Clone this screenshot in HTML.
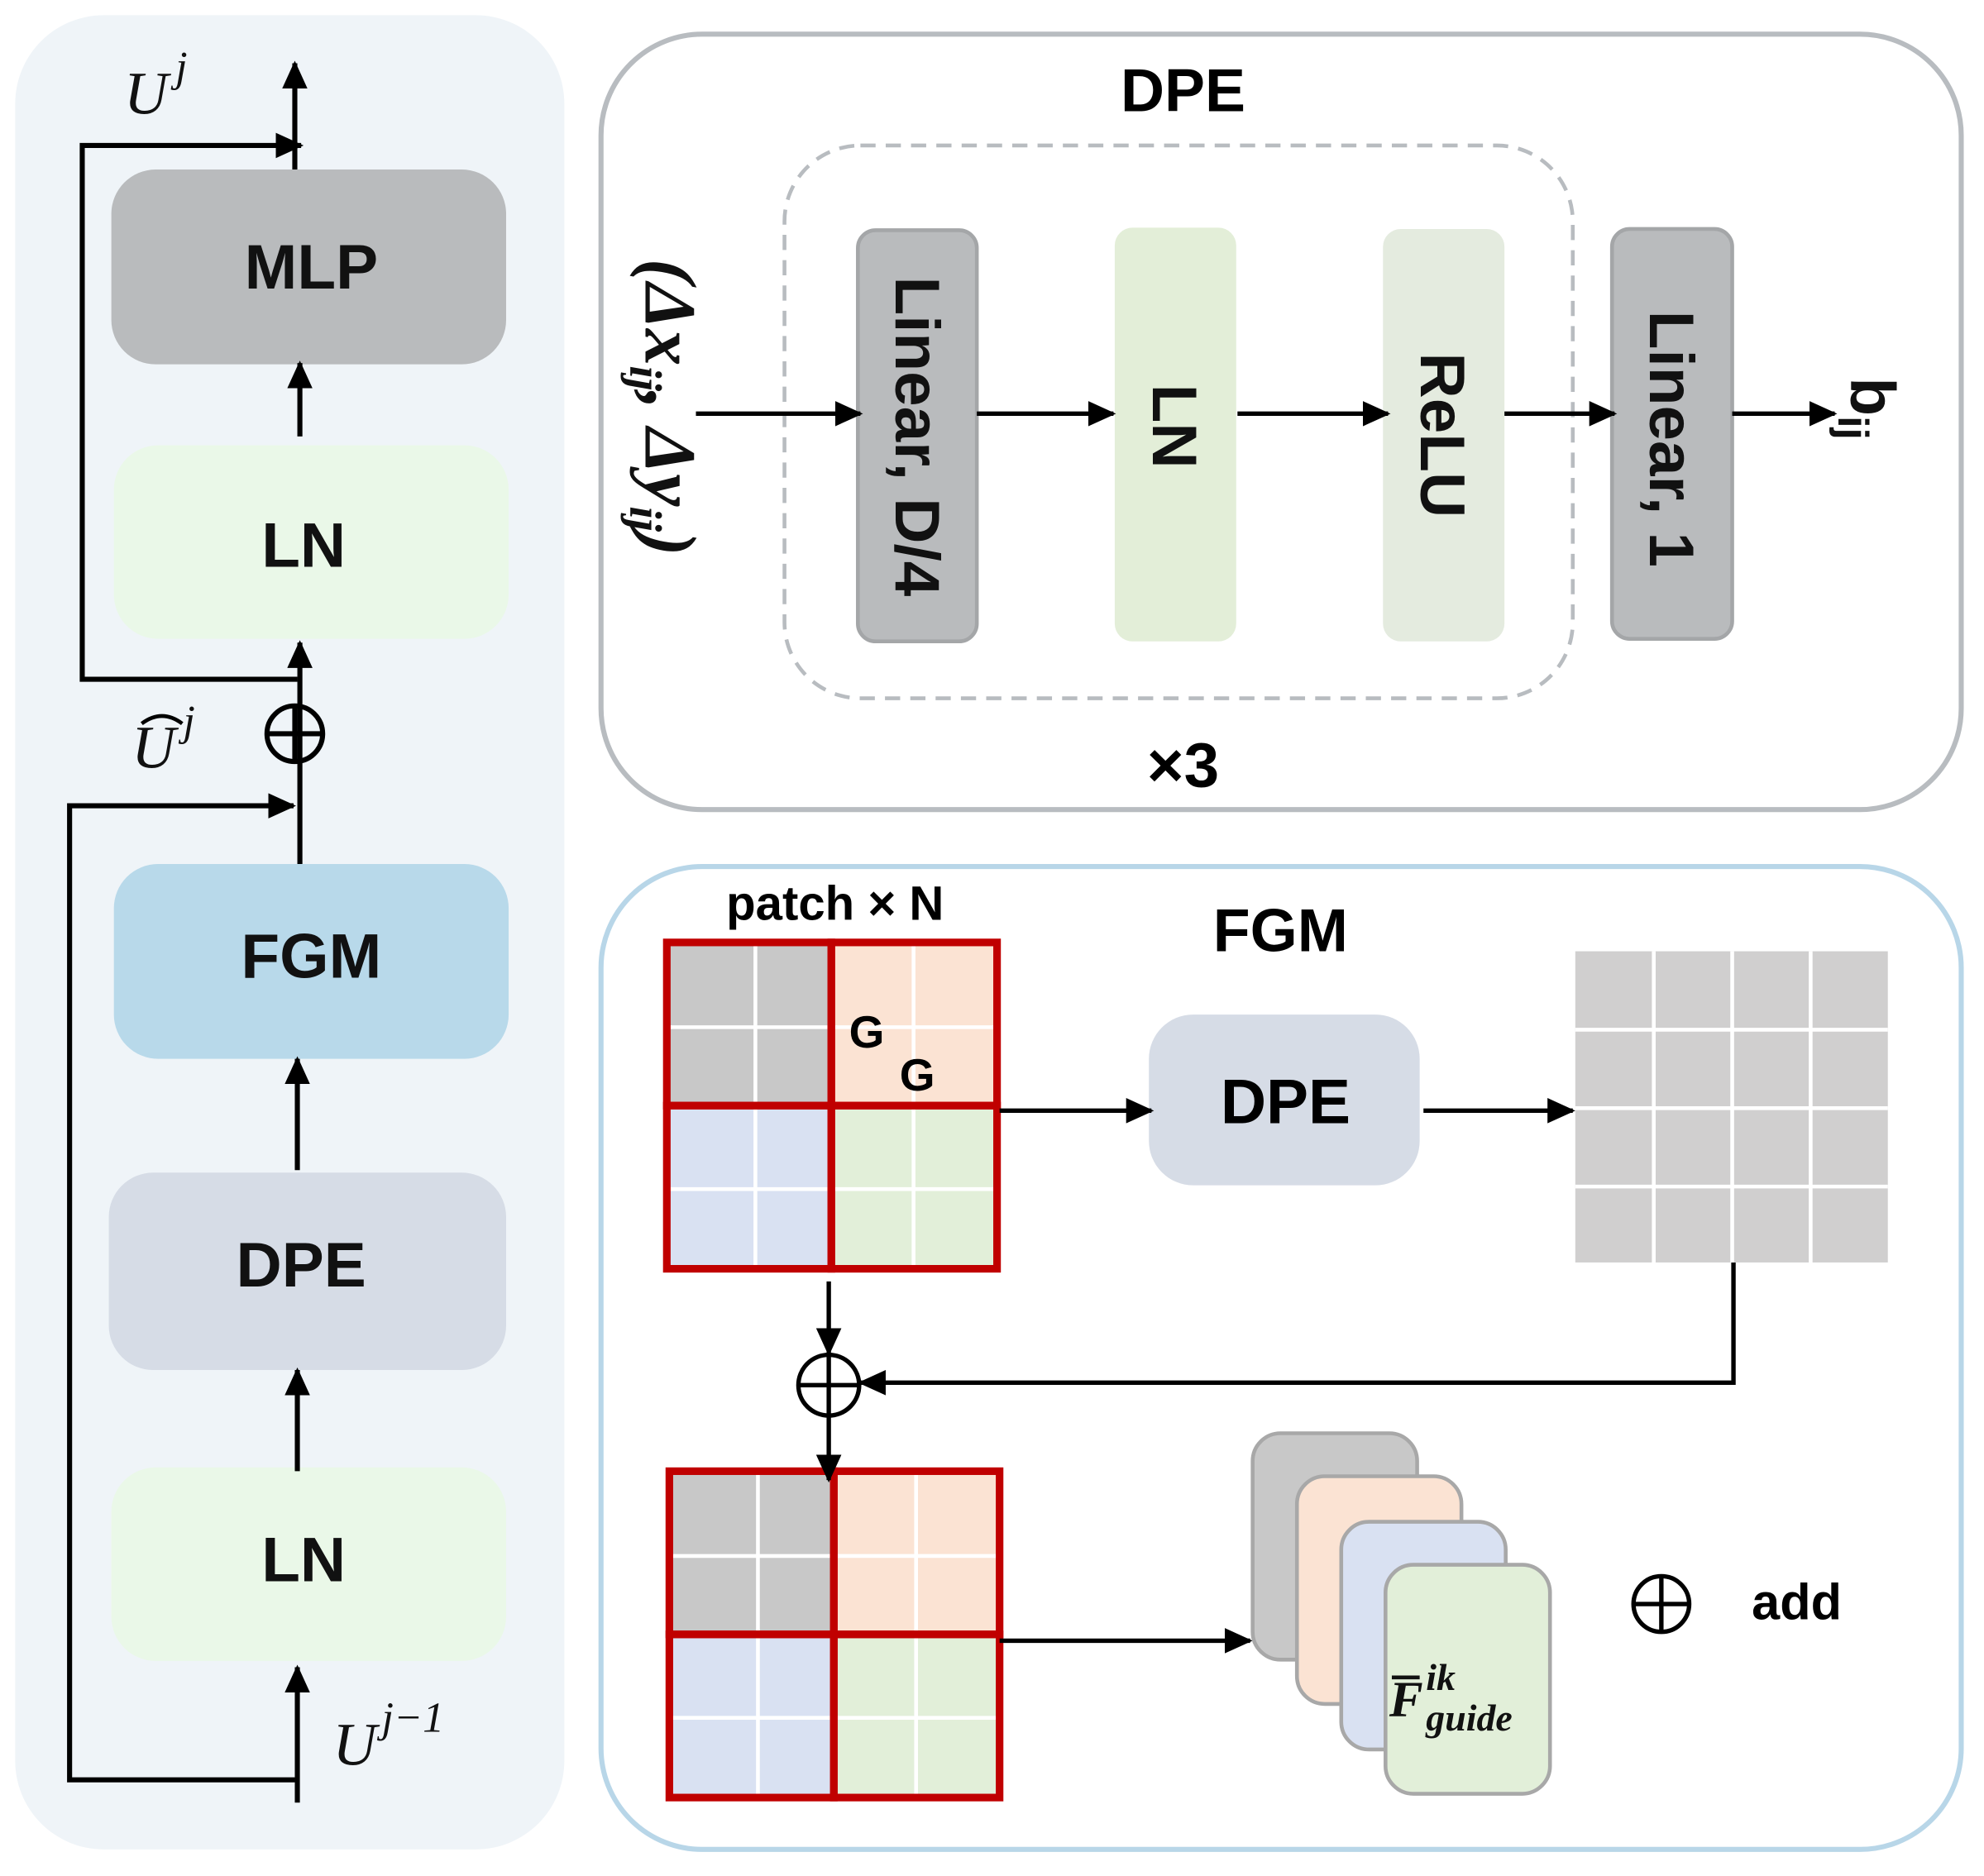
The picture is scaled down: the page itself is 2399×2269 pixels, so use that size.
<!DOCTYPE html>
<html><head><meta charset="utf-8"><style>html,body{margin:0;padding:0;background:#fff}svg{display:block}</style></head>
<body>
<svg width="2399" height="2269" viewBox="0 0 1568 1483" xmlns="http://www.w3.org/2000/svg" font-family="Liberation Sans, sans-serif">
<defs>
<marker id="b" markerWidth="22" markerHeight="20" refX="20" refY="10" orient="auto" markerUnits="userSpaceOnUse" viewBox="0 0 22 20">
<path d="M0,0 L22,10 L0,20 z" fill="#000"/></marker>
</defs>
<!-- left panel -->
<rect x="12" y="12" width="434" height="1450" rx="70" fill="#eff4f8"/>
<rect x="88" y="134" width="312" height="154" rx="35" fill="#b9bbbd"/>
<rect x="90" y="352" width="312" height="153" rx="35" fill="#eaf8e8"/>
<rect x="90" y="683" width="312" height="154" rx="35" fill="#b8d9ea"/>
<rect x="86" y="927" width="314" height="156" rx="35" fill="#d6dce6"/>
<rect x="88" y="1160" width="312" height="153" rx="35" fill="#eaf8e8"/>
<g font-weight="bold" font-size="50" text-anchor="middle" fill="#111">
<text x="246" y="228">MLP</text>
<text x="240" y="448">LN</text>
<text x="246" y="773">FGM</text>
<text x="238" y="1017">DPE</text>
<text x="240" y="1250">LN</text>
</g>
<g stroke="#000" stroke-width="4" fill="none">
<line x1="235" y1="1425" x2="235" y2="1318" marker-end="url(#b)"/>
<line x1="235" y1="1163" x2="235" y2="1083" marker-end="url(#b)"/>
<line x1="235" y1="925" x2="235" y2="837" marker-end="url(#b)"/>
<line x1="237" y1="683" x2="237" y2="508" marker-end="url(#b)"/>
<line x1="237" y1="345" x2="237" y2="287" marker-end="url(#b)"/>
<line x1="233" y1="134" x2="233" y2="50" marker-end="url(#b)"/>
<polyline points="233,1407 55,1407 55,637 232,637" marker-end="url(#b)"/>
<polyline points="235,537 65,537 65,115 238,115" marker-end="url(#b)"/>
<circle cx="233" cy="580" r="22"/>
<line x1="211" y1="580" x2="255" y2="580"/>
<line x1="233" y1="558" x2="233" y2="602"/>
<path d="M112,572 Q128,560 144,572" stroke-width="3"/>
</g>
<g font-family="Liberation Serif, serif" font-style="italic" fill="#111">
<text x="98" y="90" font-size="48">U<tspan font-size="34" dy="-26" dx="6">j</tspan></text>
<text x="104" y="607" font-size="48">U<tspan font-size="34" dy="-26" dx="6">j</tspan></text>
<text x="263" y="1395" font-size="48">U<tspan font-size="34" dy="-26" dx="4">j−1</tspan></text>
</g>
<!-- DPE panel -->
<rect x="475" y="27" width="1075" height="613" rx="80" fill="#fff" stroke="#b8bcc0" stroke-width="4"/>
<text x="935" y="88" font-size="48" font-weight="bold" text-anchor="middle">DPE</text>
<rect x="620" y="115" width="623" height="437" rx="60" fill="none" stroke="#b8bcc0" stroke-width="3" stroke-dasharray="12,8"/>
<rect x="678" y="182" width="94" height="325" rx="14" fill="#b9bbbd" stroke="#a4a6a8" stroke-width="3"/>
<rect x="881" y="180" width="96" height="327" rx="14" fill="#e3eed8"/>
<rect x="1093" y="181" width="96" height="326" rx="14" fill="#e4ebdf"/>
<rect x="1274" y="181" width="95" height="324" rx="14" fill="#b9bbbd" stroke="#a4a6a8" stroke-width="3"/>
<g font-weight="bold" font-size="50" fill="#111" text-anchor="middle">
<text transform="translate(708,345) rotate(90)">Linear, D/4</text>
<text transform="translate(911,337) rotate(90)">LN</text>
<text transform="translate(1123,344) rotate(90)">ReLU</text>
<text transform="translate(1304,347) rotate(90)">Linear, 1</text>
<text transform="translate(1463,323) rotate(90)">b<tspan font-size="34" dy="10">ij</tspan></text>
</g>
<text transform="translate(510,322) rotate(90)" font-family="Liberation Serif, serif" font-style="italic" font-weight="bold" font-size="58" text-anchor="middle" fill="#111">(Δx<tspan font-size="36" dy="12">ij</tspan><tspan dy="-12">, Δy</tspan><tspan font-size="36" dy="12">ij</tspan><tspan dy="-12">)</tspan></text>
<g stroke="#000" stroke-width="3.5">
<line x1="550" y1="327" x2="680" y2="327" marker-end="url(#b)"/>
<line x1="772" y1="327" x2="880" y2="327" marker-end="url(#b)"/>
<line x1="978" y1="327" x2="1097" y2="327" marker-end="url(#b)"/>
<line x1="1189" y1="327" x2="1276" y2="327" marker-end="url(#b)"/>
<line x1="1369" y1="327" x2="1450" y2="327" marker-end="url(#b)"/>
</g>
<text x="935" y="622" font-size="50" font-weight="bold" text-anchor="middle">×3</text>
<!-- FGM panel -->
<rect x="475" y="685" width="1075" height="777" rx="80" fill="#fff" stroke="#b8d6e8" stroke-width="4"/>
<text x="660" y="727" font-size="38" font-weight="bold" text-anchor="middle">patch × N</text>
<text x="1012" y="752" font-size="48" font-weight="bold" text-anchor="middle">FGM</text>
<g id="g1">
<rect x="527" y="745" width="130" height="129" fill="#c8c8c8"/>
<rect x="657" y="745" width="131" height="129" fill="#fbe3d3"/>
<rect x="527" y="874" width="130" height="129" fill="#d9e1f2"/>
<rect x="657" y="874" width="131" height="129" fill="#e2efd9"/>
<g stroke="#fff" stroke-width="3">
<line x1="597" y1="745" x2="597" y2="1003"/><line x1="722" y1="745" x2="722" y2="1003"/>
<line x1="527" y1="812" x2="788" y2="812"/><line x1="527" y1="940" x2="788" y2="940"/>
</g>
<g stroke="#c00000" stroke-width="6" fill="none">
<rect x="527" y="745" width="130" height="129"/><rect x="657" y="745" width="131" height="129"/>
<rect x="527" y="874" width="130" height="129"/><rect x="657" y="874" width="131" height="129"/>
</g>
</g>
<text x="685" y="828" font-size="36" font-weight="bold" text-anchor="middle">G</text>
<text x="725" y="862" font-size="36" font-weight="bold" text-anchor="middle">G</text>
<use href="#g1" transform="translate(2,418)"/>
<rect x="908" y="802" width="214" height="135" rx="35" fill="#d6dce6"/>
<text x="1016" y="888" font-size="50" font-weight="bold" text-anchor="middle">DPE</text>
<rect x="1245" y="752" width="247" height="246" fill="#d0cfcf"/>
<g stroke="#fff" stroke-width="3">
<line x1="1307" y1="752" x2="1307" y2="998"/><line x1="1369" y1="752" x2="1369" y2="998"/><line x1="1431" y1="752" x2="1431" y2="998"/>
<line x1="1245" y1="814" x2="1492" y2="814"/><line x1="1245" y1="876" x2="1492" y2="876"/><line x1="1245" y1="938" x2="1492" y2="938"/>
</g>
<g stroke="#000" stroke-width="3.5" fill="none">
<line x1="790" y1="878" x2="910" y2="878" marker-end="url(#b)"/>
<line x1="1125" y1="878" x2="1243" y2="878" marker-end="url(#b)"/>
<polyline points="1370,998 1370,1093 680,1093" marker-end="url(#b)"/>
<line x1="655" y1="1013" x2="655" y2="1070" marker-end="url(#b)"/>
<line x1="655" y1="1118" x2="655" y2="1170" marker-end="url(#b)"/>
<line x1="790" y1="1297" x2="988" y2="1297" marker-end="url(#b)"/>
<circle cx="655" cy="1095" r="24"/><line x1="631" y1="1095" x2="679" y2="1095"/><line x1="655" y1="1071" x2="655" y2="1119"/>
<circle cx="1313" cy="1268" r="22"/><line x1="1291" y1="1268" x2="1335" y2="1268"/><line x1="1313" y1="1246" x2="1313" y2="1290"/>
</g>
<text x="1420" y="1280" font-size="40" font-weight="bold" text-anchor="middle">add</text>
<g stroke="#a8a8a8" stroke-width="3">
<rect x="990" y="1133" width="130" height="179" rx="22" fill="#c8c8c8"/>
<rect x="1025" y="1167" width="130" height="180" rx="22" fill="#fbe3d3"/>
<rect x="1060" y="1203" width="130" height="180" rx="22" fill="#d9e1f2"/>
<rect x="1095" y="1237" width="130" height="181" rx="22" fill="#e2efd9"/>
</g>
<g font-family="Liberation Serif, serif" font-style="italic" font-weight="bold" fill="#111">
<text x="1098" y="1357" font-size="40">F</text>
<line x1="1100" y1="1326" x2="1122" y2="1326" stroke="#111" stroke-width="3"/>
<text x="1127" y="1336" font-size="30">ik</text>
<text x="1127" y="1368" font-size="30">guide</text>
</g>
</svg>
</body></html>
